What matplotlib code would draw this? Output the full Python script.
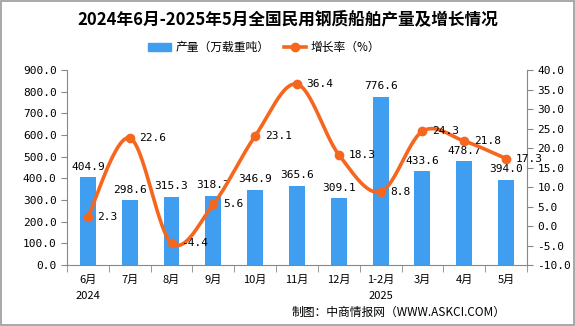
import matplotlib.pyplot as plt
import numpy as np
from matplotlib.patches import Rectangle

plt.rcParams['font.family'] = ['Noto Sans CJK SC', 'DejaVu Sans']

months = ['6月\n2024', '7月', '8月', '9月', '10月', '11月', '12月', '1-2月\n2025', '3月', '4月', '5月']
output = [404.9, 298.6, 315.3, 318.7, 346.9, 365.6, 309.1, 776.6, 433.6, 478.7, 394.0]
growth = [2.3, 22.6, -4.4, 5.6, 23.1, 36.4, 18.3, 8.8, 24.3, 21.8, 17.3]

bar_color = '#3f9ef0'
line_color = '#f5671f'
grey = '#888888'

fig = plt.figure(figsize=(5.75, 3.26), dpi=100)
fig.patches.append(Rectangle((0.001, 0.002), 0.997, 0.995, transform=fig.transFigure,
                             fill=False, edgecolor='#999999', linewidth=1.2))

ax = fig.add_axes([0.1165, 0.187, 0.8, 0.598])
ax2 = ax.twinx()

x = np.arange(len(months))
ax.bar(x, output, width=0.38, color=bar_color, zorder=2)
for xi, v in zip(x, output):
    ax.annotate(f'{v:.1f}', (xi, v), xytext=(0, 4), textcoords='offset points',
                ha='center', va='bottom', fontsize=8, family='DejaVu Sans Mono', zorder=5)

# smooth line (Catmull-Rom style curve through the points)
px = x.astype(float)
py = np.array(growth, dtype=float)
sx, sy = [], []
for i in range(len(px) - 1):
    p0 = (px[i - 1], py[i - 1]) if i > 0 else (px[i], py[i])
    p1 = (px[i], py[i])
    p2 = (px[i + 1], py[i + 1])
    p3 = (px[i + 2], py[i + 2]) if i + 2 < len(px) else (px[i + 1], py[i + 1])
    t = np.linspace(0, 1, 30)
    cx = 0.5 * ((2 * p1[0]) + (-p0[0] + p2[0]) * t + (2 * p0[0] - 5 * p1[0] + 4 * p2[0] - p3[0]) * t ** 2
                + (-p0[0] + 3 * p1[0] - 3 * p2[0] + p3[0]) * t ** 3)
    cy = 0.5 * ((2 * p1[1]) + (-p0[1] + p2[1]) * t + (2 * p0[1] - 5 * p1[1] + 4 * p2[1] - p3[1]) * t ** 2
                + (-p0[1] + 3 * p1[1] - 3 * p2[1] + p3[1]) * t ** 3)
    sx.extend(cx)
    sy.extend(cy)
ax2.plot(sx, sy, color=line_color, linewidth=2.6, zorder=3)
ax2.plot(px, py, 'o', color=line_color, markersize=6, zorder=4)
for xi, v in zip(px, py):
    ax2.annotate(f'{v:.1f}', (xi, v), xytext=(7, 0), textcoords='offset points',
                 ha='left', va='center', fontsize=8, family='DejaVu Sans Mono', zorder=5)

ax.set_xlim(-0.5, len(months) - 0.5)
ax.set_ylim(0, 900)
ax.set_yticks(np.arange(0, 901, 100))
ax.set_yticklabels([f'{v:.1f}' for v in np.arange(0, 901, 100)], family='DejaVu Sans Mono')
ax2.set_ylim(-10, 40)
ax2.set_yticks(np.arange(-10, 41, 5))
ax2.set_yticklabels([f'{v:.1f}' for v in np.arange(-10, 41, 5)], family='DejaVu Sans Mono')

ax.set_xticks(x)
ax.set_xticklabels(months, fontsize=8, linespacing=1.75)
ax.set_xticks(np.arange(-0.5, len(months), 1), minor=True)
ax.tick_params(axis='x', which='major', length=0, pad=7)
ax.tick_params(axis='x', which='minor', length=5, color=grey)
ax.tick_params(axis='y', labelsize=8, length=4, color=grey)
ax2.tick_params(axis='y', labelsize=8, length=4, color=grey)

for a in (ax, ax2):
    a.spines['top'].set_visible(False)
    for s in ('left', 'right', 'bottom'):
        a.spines[s].set_color(grey)
ax.spines['right'].set_visible(False)
ax2.spines['left'].set_visible(False)
ax2.spines['bottom'].set_visible(False)

fig.suptitle('2024年6月-2025年5月全国民用钢质船舶产量及增长情况', x=0.5, y=0.97,
             fontsize=12, fontweight='bold')

handles = [Rectangle((0, 0), 1, 1, color=bar_color),
           plt.Line2D([], [], color=line_color, linewidth=2.6, marker='o', markersize=6)]
fig.legend(handles, ['产量（万载重吨）', '增长率（%）'], loc='center', bbox_to_anchor=(0.46, 0.855),
           ncol=2, frameon=False, fontsize=8.5, handlelength=1.9, handletextpad=0.4,
           columnspacing=1.2)

fig.text(0.88, 0.043, '制图：中商情报网（WWW.ASKCI.COM）', ha='right', va='center', fontsize=8.5)

fig.savefig('out.png', dpi=100)
